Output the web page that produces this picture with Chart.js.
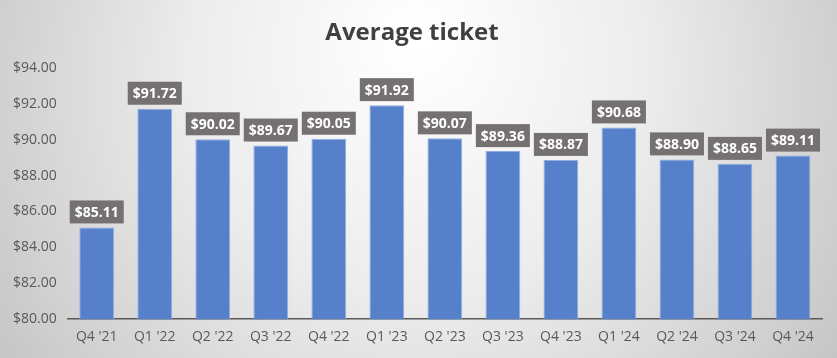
<!DOCTYPE html>
<html>
<head>
<meta charset="utf-8">
<script src="https://cdn.jsdelivr.net/npm/chart.js@4.4.1/dist/chart.umd.min.js"></script>
<style>
  html, body { margin: 0; padding: 0; background: #fff; }
  #wrap { width: 837px; height: 358px; }
</style>
</head>
<body>
<div id="wrap"><canvas id="ticketChart" width="837" height="358"></canvas></div>
<script>
// quarters and average ticket values
const quarters = ["Q4 '21", "Q1 '22", "Q2 '22", "Q3 '22", "Q4 '22", "Q1 '23", "Q2 '23", "Q3 '23", "Q4 '23", "Q1 '24", "Q2 '24", "Q3 '24", "Q4 '24"];
const avgTicket = [85.11, 91.72, 90.02, 89.67, 90.05, 91.92, 90.07, 89.36, 88.87, 90.68, 88.90, 88.65, 89.11];
const yTicks = [80, 82, 84, 86, 88, 90, 92, 94];

const fmt = v => "$" + v.toFixed(2);

// gray radial background like the office chart area
const bgPlugin = {
  id: "bg",
  beforeDraw(chart) {
    const ctx = chart.ctx;
    const w = chart.width, h = chart.height;
    const g = ctx.createRadialGradient(w * 0.5, h * 0.1, 10, w * 0.5, h * 0.3, w * 0.6);
    g.addColorStop(0, "#ffffff");
    g.addColorStop(0.45, "#ececec");
    g.addColorStop(1, "#c4c4c4");
    ctx.save();
    ctx.fillStyle = g;
    ctx.fillRect(0, 0, w, h);
    ctx.restore();
  }
};

// value boxes above each bar
const labelPlugin = {
  id: "valueBoxes",
  afterDatasetsDraw(chart) {
    const ctx = chart.ctx;
    const meta = chart.getDatasetMeta(0);
    ctx.save();
    ctx.font = "bold 14px 'Open Sans', sans-serif";
    ctx.textAlign = "center";
    ctx.textBaseline = "middle";
    meta.data.forEach((bar, i) => {
      const text = fmt(avgTicket[i]);
      const tw = ctx.measureText(text).width;
      const bw = tw + 10, bh = 23;
      const cx = bar.x, bottom = bar.y - 4;
      ctx.fillStyle = "#767171";
      ctx.fillRect(cx - bw / 2, bottom - bh, bw, bh);
      ctx.fillStyle = "#ffffff";
      ctx.fillText(text, cx, bottom - bh / 2 + 1);
    });
    ctx.restore();
  }
};

new Chart(document.getElementById("ticketChart"), {
  type: "bar",
  data: {
    labels: quarters,
    datasets: [{
      data: avgTicket,
      backgroundColor: "#5680CA",
      borderColor: "#8FAEE3",
      borderWidth: 1,
      barPercentage: 0.6,
      categoryPercentage: 1
    }]
  },
  options: {
    responsive: false,
    animation: false,
    layout: { padding: { left: 2, right: 15, top: 6, bottom: 4 } },
    plugins: {
      legend: { display: false },
      tooltip: { enabled: false },
      title: {
        display: true,
        text: "Average ticket",
        color: "#404040",
        font: { family: "'Open Sans', sans-serif", size: 24, weight: "bold" },
        padding: { top: 13, bottom: 20 }
      }
    },
    scales: {
      x: {
        grid: { display: false, drawTicks: false },
        border: { display: true, color: "#595959", width: 1.5 },
        ticks: { color: "#595959", font: { family: "'Open Sans', sans-serif", size: 14 }, padding: 9 }
      },
      y: {
        min: 80,
        max: 94,
        afterBuildTicks(axis) { axis.ticks = yTicks.map(v => ({ value: v })); },
        grid: { display: false, drawTicks: false },
        border: { display: false },
        ticks: {
          color: "#595959",
          font: { family: "'Open Sans', sans-serif", size: 14 },
          padding: 11,
          callback: v => fmt(v)
        }
      }
    }
  },
  plugins: [bgPlugin, labelPlugin]
});
</script>
</body>
</html>
